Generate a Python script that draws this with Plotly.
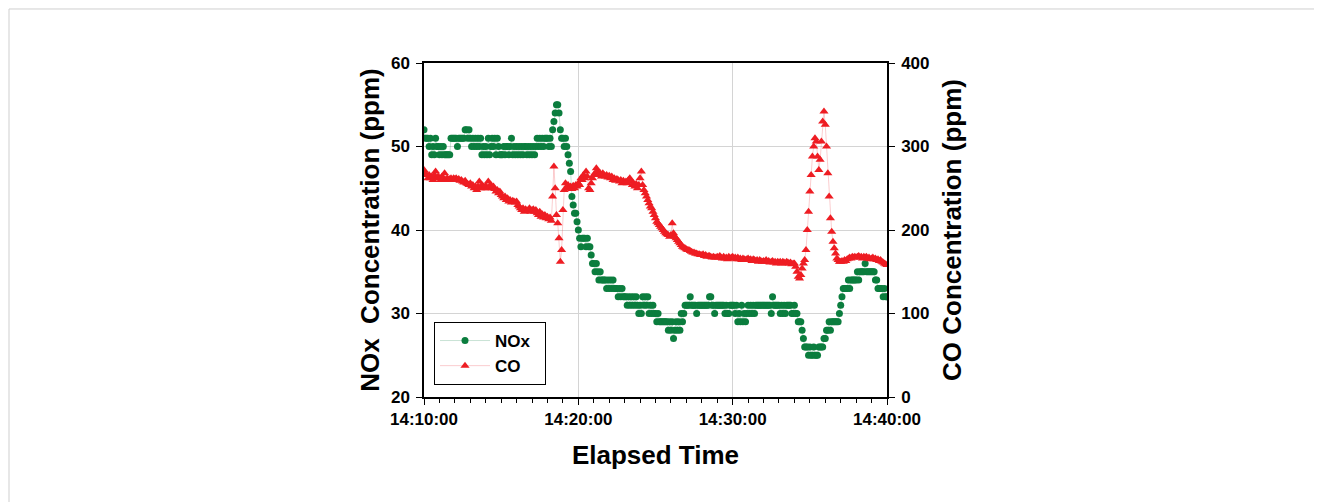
import numpy as np
import pandas as pd
import plotly.graph_objects as go

# ---- data (one row = one minute, samples every 5 s) ----
start_time = "2000-01-01 14:10:00"
end_time = "2000-01-01 14:40:00"
sample_seconds = 5

nox_ppm = [
    52, 51, 51, 51, 50, 51, 49, 50, 49, 51, 50, 50,
    49, 50, 49, 50, 49, 49, 49, 49, 49, 51, 51, 51,
    51, 51, 50, 51, 51, 51, 51, 51, 52, 52, 51, 52,
    51, 50, 51, 50, 51, 50, 51, 50, 51, 49, 50, 49,
    50, 49, 51, 49, 50, 51, 50, 51, 49, 51, 50, 49,
    49, 49, 50, 49, 50, 50, 49, 50, 51, 49, 50, 49,
    50, 49, 50, 49, 50, 49, 50, 50, 49, 50, 49, 50,
    49, 50, 49, 50, 51, 50, 51, 50, 51, 50, 51, 51,
    51, 50, 51, 50, 52, 53, 54, 55, 55, 54, 52, 51,
    51, 50, 51, 50, 49, 48, 47, 44, 43, 42, 42, 41,
    40, 39, 38, 39, 39, 39, 38, 39, 38, 38, 37, 36,
    36, 35, 36, 35, 34, 35, 34, 34, 34, 34, 33, 34,
    33, 34, 33, 34, 33, 33, 33, 32, 33, 32, 33, 32,
    32, 32, 31, 32, 31, 32, 31, 32, 31, 32, 31, 30,
    31, 30, 32, 31, 32, 31, 32, 30, 31, 30, 31, 30,
    30, 29, 30, 29, 29, 29, 29, 29, 29, 29, 28, 29,
    28, 29, 27, 28, 29, 28, 29, 28, 30, 29, 30, 31,
    31, 31, 31, 32, 31, 31, 31, 31, 30, 31, 31, 31,
    31, 31, 31, 31, 31, 31, 32, 32, 31, 31, 30, 31,
    31, 31, 31, 31, 31, 31, 30, 31, 30, 30, 31, 31,
    31, 31, 30, 31, 29, 30, 29, 31, 29, 30, 29, 30,
    31, 30, 31, 30, 31, 30, 31, 31, 31, 31, 31, 31,
    31, 31, 31, 31, 31, 31, 30, 32, 31, 31, 31, 31,
    31, 30, 31, 30, 31, 30, 31, 31, 31, 31, 30, 30,
    31, 30, 30, 29, 29, 29, 28, 27, 26, 26, 26, 25,
    26, 25, 25, 26, 25, 25, 25, 26, 26, 26, 26, 27,
    27, 28, 28, 29, 28, 29, 29, 29, 29, 29, 29, 30,
    31, 32, 33, 33, 33, 33, 34, 33, 34, 34, 34, 34,
    34, 35, 34, 35, 35, 35, 35, 36, 35, 35, 35, 35,
    35, 35, 35, 34, 34, 33, 33, 33, 33, 32, 33, 32,
    32,
]

co_ppm = [
    272, 268, 266, 262, 266, 262, 264, 260, 266, 270, 262, 264,
    262, 260, 264, 262, 268, 260, 262, 260, 261, 262, 260, 262,
    261, 262, 260, 261, 259, 260, 258, 257, 259, 256, 255, 254,
    256, 252, 254, 250, 252, 248, 252, 258, 250, 254, 252, 250,
    253, 250, 258, 252, 254, 250, 252, 249, 246, 248, 244, 246,
    242, 240, 238, 240, 236, 238, 234, 236, 233, 235, 234, 233,
    234, 230, 228, 226, 224, 226, 222, 225, 223, 224, 226, 222,
    224, 225, 222, 224, 220, 218, 222, 216, 219, 215, 218, 214,
    216, 213, 215, 211, 240, 276, 250, 218, 208, 190, 162, 176,
    224, 248, 256, 250, 254, 250, 252, 249, 253, 250, 254, 252,
    256, 254, 262, 260, 266, 262, 270, 264, 250, 248, 256, 262,
    266, 268, 274, 270, 266, 268, 264, 268, 266, 264, 266, 263,
    265, 262, 264, 260, 262, 259, 261, 260, 258, 260, 256, 259,
    257, 258, 256, 260, 262, 258, 254, 256, 252, 255, 250, 254,
    262, 270, 254, 248, 244, 240, 236, 232, 228, 226, 222, 218,
    214, 210, 208, 206, 204, 202, 200, 198, 196, 195, 194, 192,
    194, 208, 196, 192, 190, 188, 186, 184, 182, 180, 179, 178,
    177, 176, 176, 175, 174, 173, 173, 172, 172, 171, 171, 170,
    170, 171, 169, 170, 168, 169, 169, 168, 167, 168, 167, 167,
    168, 167, 169, 167, 166, 168, 166, 167, 165, 168, 166, 167,
    168, 166, 167, 165, 167, 165, 166, 164, 166, 165, 164, 165,
    166, 164, 165, 163, 165, 164, 163, 164, 162, 164, 163, 162,
    163, 162, 164, 162, 163, 161, 162, 163, 161, 162, 160, 162,
    161, 162, 160, 162, 161, 160, 162, 161, 160, 161, 159, 160,
    160, 156, 150, 144, 142, 146, 154, 160, 164, 176, 200, 222,
    246, 266, 288, 300, 310, 306, 288, 272, 284, 306, 330, 342,
    326, 300, 268, 240, 214, 198, 186, 178, 172, 166, 164, 162,
    162, 163, 162, 164, 163, 165, 166, 167, 166, 168, 167, 168,
    167, 168, 169, 167, 168, 166, 168, 167, 168, 166, 167, 165,
    166, 167, 165, 166, 164, 165, 163, 164, 162, 161, 160, 159,
    158,
]

series_names = ["NOx", "CO"]
left_title = "NOx\u00a0 Concentration (ppm)"
right_title = "CO Concentration (ppm)"
x_title = "Elapsed Time"

times = pd.date_range(start=start_time, periods=len(nox_ppm), freq=f"{sample_seconds}s")

FONT = "Liberation Sans, Arial, sans-serif"
GREEN = "#0b7d3e"
RED = "#ee1d23"
PAD = "\u00a0" * 2  # a little trailing room in the legend box

fig = go.Figure()
fig.add_trace(go.Scatter(
    x=times, y=nox_ppm, name=series_names[0] + PAD, mode="lines+markers",
    marker=dict(symbol="circle", size=7, color=GREEN),
    line=dict(color="rgba(11,125,62,0.22)", width=1),
))
fig.add_trace(go.Scatter(
    x=times, y=co_ppm, name=series_names[1] + PAD, mode="lines+markers", yaxis="y2",
    marker=dict(symbol="triangle-up", size=8, color=RED),
    line=dict(color="rgba(238,29,35,0.22)", width=1),
))

tickfont = dict(family=FONT, size=17, color="black", weight="bold")
titlefont = dict(family=FONT, size=26, color="black", weight="bold")

fig.update_layout(
    width=1322, height=502,
    margin=dict(l=416, r=443, t=55, b=113),
    paper_bgcolor="white", plot_bgcolor="white",
    font=dict(family=FONT, color="black"),
    xaxis=dict(
        type="date", range=[start_time, end_time],
        tick0=start_time, dtick=600000, tickformat="%H:%M:%S",
        ticks="outside", ticklen=6, tickwidth=1, tickcolor="black",
        showline=True, linecolor="black", linewidth=1.5, mirror=True,
        showgrid=True, gridcolor="#d4d4d4", gridwidth=1,
        minor=dict(dtick=60000, ticks="outside", ticklen=4, tickcolor="black", showgrid=False),
        tickfont=tickfont,
        title=dict(text=x_title, font=titlefont, standoff=18),
        automargin=False,
    ),
    yaxis=dict(
        range=[20, 60], dtick=10, tick0=20,
        ticks="outside", ticklen=6, tickcolor="black",
        showline=True, linecolor="black", linewidth=1.5,
        showgrid=True, gridcolor="#d4d4d4", gridwidth=1, zeroline=False,
        tickfont=tickfont, ticklabelstandoff=3,
        title=dict(text=left_title, font=titlefont, standoff=4),
        automargin=False,
    ),
    yaxis2=dict(
        overlaying="y", side="right",
        range=[0, 400], dtick=100, tick0=0,
        ticks="outside", ticklen=6, tickcolor="black",
        showline=True, linecolor="black", linewidth=1.5,
        showgrid=False, zeroline=False,
        tickfont=tickfont, ticklabelstandoff=3,
        title=dict(text=right_title, font=titlefont, standoff=14),
        automargin=False,
    ),
    legend=dict(
        x=0.0216, y=0.2246, xanchor="left", yanchor="top",
        bgcolor="white", bordercolor="black", borderwidth=1,
        font=dict(family=FONT, size=17, color="black", weight="bold"),
        itemwidth=50,
    ),
    shapes=[dict(
        type="rect", xref="paper", yref="paper", layer="below",
        x0=-0.8963, x1=1.9266, y0=-0.40, y1=1.1617,
        line=dict(color="#cfcfcf", width=1), fillcolor="rgba(0,0,0,0)",
    )],
)

fig.write_html("out.html")
